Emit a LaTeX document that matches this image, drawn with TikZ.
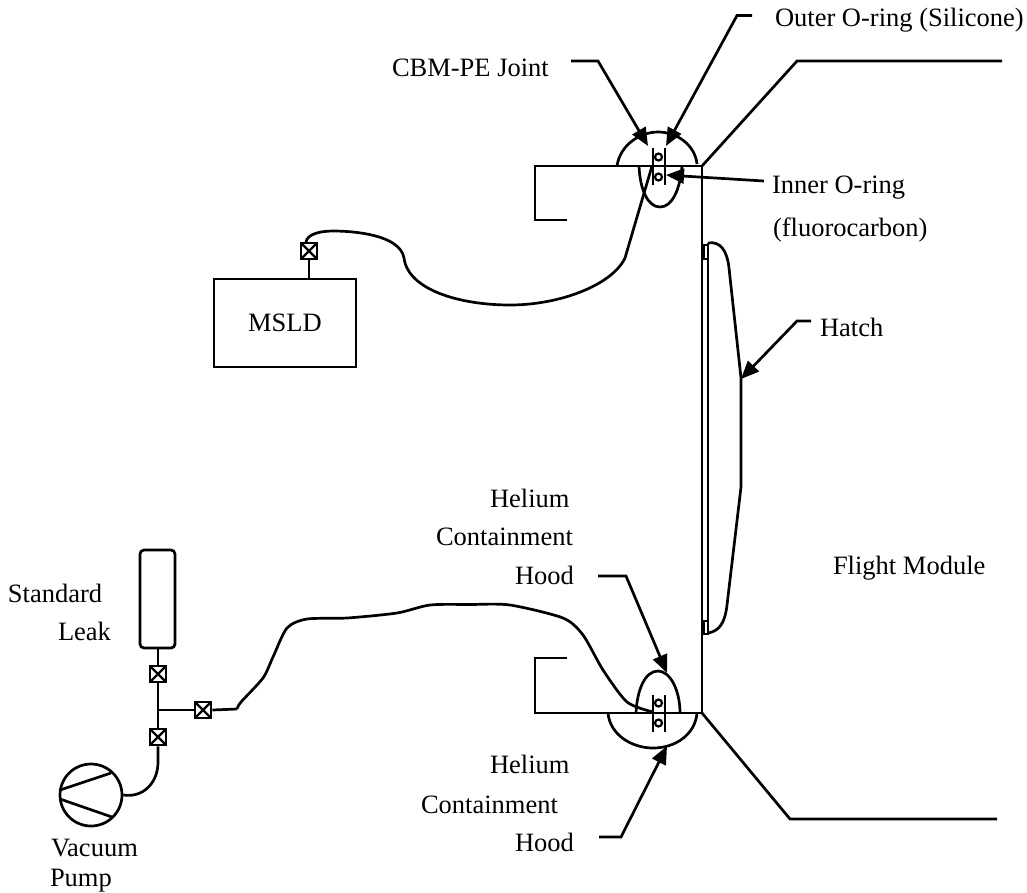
\documentclass[tikz,border=0pt]{standalone}
\usepackage{fontspec}
\setmainfont{Liberation Serif}
\usetikzlibrary{arrows.meta}
\tikzset{
  line/.style={line width=2.7pt,line join=miter},
  thin line/.style={line width=2.4pt},
  lead/.style={line width=2.7pt,-{Triangle[length=18pt,width=15pt]}},
  lbl/.style={anchor=base west,inner sep=0pt,outer sep=0pt,font=\fontsize{26.5pt}{28pt}\selectfont},
  valve/.style={draw,line width=2.7pt,fill=white,minimum size=16pt,inner sep=0pt,
     path picture={\draw[line width=2.2pt] (path picture bounding box.south west) -- (path picture bounding box.north east)
       (path picture bounding box.north west) -- (path picture bounding box.south east);}},
  ring/.style={circle,draw,line width=2.2pt,fill=white,minimum size=7pt,inner sep=0pt},
}
\begin{document}
\begin{tikzpicture}[x=1pt,y=-1pt]
\useasboundingbox (0,0) rectangle (1027,892);
% module structure
\draw[line] (567,220) -- (535,220) -- (535,166) -- (702,166) -- (702,713) -- (535,713) -- (535,658) -- (567,658);
\draw[line] (702,166) -- (797,61) -- (1002,61);
\draw[line] (702,713) -- (790,819) -- (997,819);
% hatch
\draw[line] (708,243) -- (708,633);
\draw[line] (708,243) .. controls (720,241) and (727,250) .. (729,268) -- (741,378) -- (741,487) -- (727,605) .. controls (725,622) and (720,631) .. (708,633);
\draw[line] (704,245) rectangle (708,259);
\draw[line] (704,621) rectangle (708,634);
% top hoods
\draw[line] (617,166) .. controls (620,145) and (640,132) .. (658,132) .. controls (677,132) and (695,145) .. (697,164);
\draw[line] (639,166) .. controls (640,190) and (648,207) .. (660,207) .. controls (672,207) and (680,190) .. (682,166);
% bottom hoods
\draw[line] (636,713) .. controls (637,690) and (645,671) .. (658,671) .. controls (670,671) and (680,690) .. (680,713);
\draw[line] (608,713) .. controls (610,735) and (632,748) .. (653,748) .. controls (675,748) and (695,735) .. (697,713);
% joints
\draw[thin line] (653,148) -- (653,185) (665,148) -- (665,185);
\node[ring] (r1) at (658.5,157) {};
\node[ring] (r2) at (658.5,177) {};
\draw[thin line] (653,695) -- (653,732) (665,695) -- (665,732);
\node[ring] (r3) at (658.5,703) {};
\node[ring] (r4) at (658.5,723) {};
% MSLD
\node[draw,line width=2.7pt,minimum width=142pt,minimum height=88pt,inner sep=0pt,font=\fontsize{26.5pt}{28pt}\selectfont] (msld) at (285,323) {MSLD};
\node[valve] (v0) at (309,251) {};
\draw[line] (v0.south) -- (v0.south |- msld.north);
\coordinate (jtop) at (652,166);
\draw[line] (jtop) -- (625,258) .. controls (612,285) and (560,305) .. (510,305)
  .. controls (460,305) and (408,290) .. (404,258)
  .. controls (400,235) and (355,231) .. (333,231)
  .. controls (318,231) and (307,235) .. (306,242);
% standard leak and pump
\node[draw,line width=2.7pt,rounded corners=4pt,minimum width=35pt,minimum height=98pt,inner sep=0pt] (leak) at (157.5,599) {};
\node[valve] (v1) at (158,674) {};
\node[valve] (v2) at (158,737) {};
\node[valve] (v3) at (203,710) {};
\coordinate (tee) at (158,710);
\draw[line] (leak.south -| v1.north) -- (v1.north);
\draw[line] (v1.south) -- (v2.north);
\draw[line] (tee) -- (v3.west);
\node[circle,draw,line width=2.7pt,minimum size=62pt,inner sep=0pt] (pump) at (91,795) {};
\draw[line] (v2.south) -- (158,762) .. controls (158,783) and (143,798) .. (pump.east);
\draw[line] (60,790) -- (111,773) (60,799) -- (112,817);
% long tube
\coordinate (jbot) at (653,712);
\draw[line] (v3.east) -- (237,709) plot[smooth,tension=0.45] coordinates {(237,709) (241,702) (263,678) (273,657) (287,628) (307,619) (347,618) (397,613) (430,605) (470,604.5) (510,605) (563,618) (583,635) (603,670) (627,702) (653,712)};
% leaders
\coordinate (a1) at (571,61); \coordinate (a2) at (598,61);
\draw[lead] (a1) -- (a2) -- (648,146);
\coordinate (b1) at (752,15.5); \coordinate (b2) at (737,15.5);
\draw[lead] (b1) -- (b2) -- (666,146);
\coordinate (c1) at (764,181);
\draw[lead] (c1) -- (666,175);
\coordinate (d1) at (811,321); \coordinate (d2) at (797,321);
\draw[lead] (d1) -- (d2) -- (741,379);
\coordinate (e1) at (598,576); \coordinate (e2) at (626,576);
\draw[lead] (e1) -- (e2) -- (667,673);
\coordinate (f1) at (599,837); \coordinate (f2) at (621,837);
\draw[lead] (f1) -- (f2) -- (667,746);
% labels
\node[lbl] (t1) at (775,26) {Outer O-ring (Silicone)};
\node[lbl] (t2) at (392,76) {CBM-PE Joint};
\node[lbl] (t3) at (772,193) {Inner O-ring};
\node[lbl] (t4) at (773,236) {(fluorocarbon)};
\node[lbl] (t5) at (820,336) {Hatch};
\node[lbl] (t6) at (490,507) {Helium};
\node[lbl] (t7) at (436,545) {Containment};
\node[lbl] (t8) at (515,584) {Hood};
\node[lbl] (t9) at (833,574) {Flight Module};
\node[lbl] (t10) at (8,602) {Standard};
\node[lbl] (t11) at (58,640) {Leak};
\node[lbl] (t12) at (51,856) {Vacuum};
\node[lbl] (t13) at (50,886) {Pump};
\node[lbl] (t14) at (490,773) {Helium};
\node[lbl] (t15) at (421,813) {Containment};
\node[lbl] (t16) at (515,851) {Hood};
\end{tikzpicture}
\end{document}
